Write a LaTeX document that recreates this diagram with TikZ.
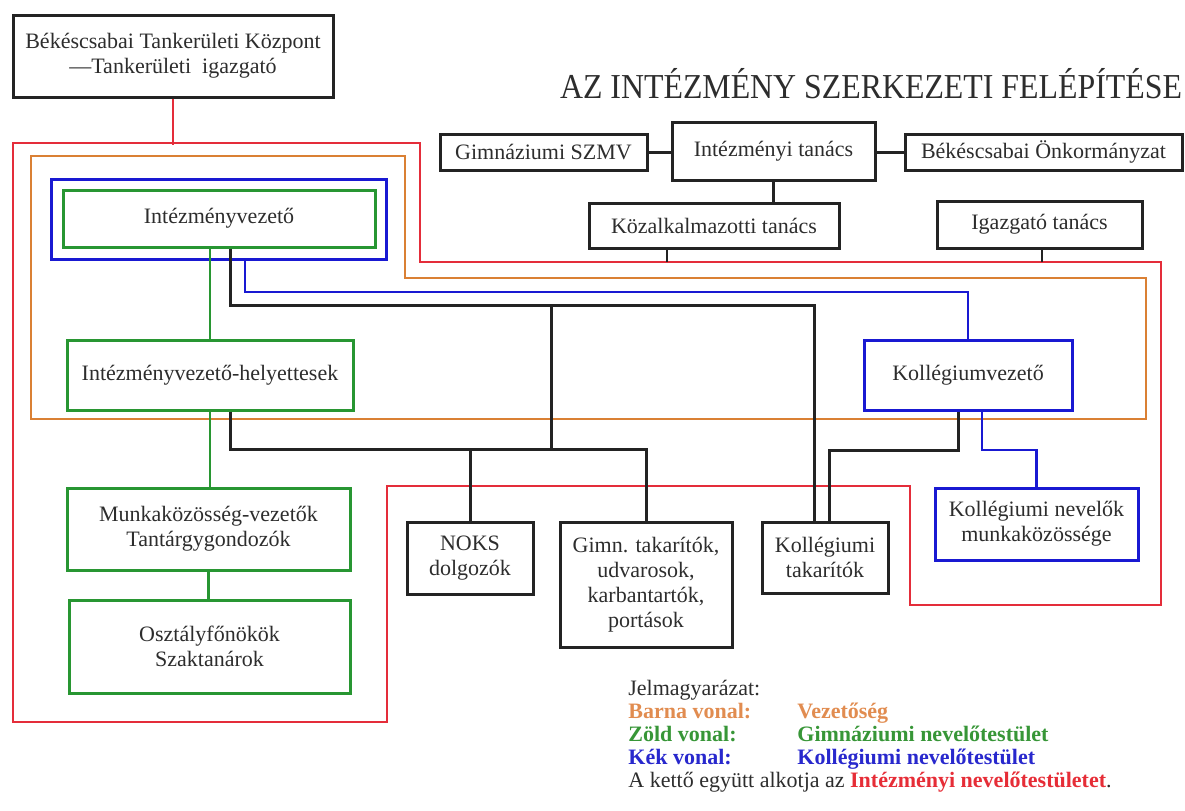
\documentclass[tikz,border=0pt]{standalone}
\usepackage{fontspec}
\setmainfont{Liberation Serif}
\usepackage{xcolor}
\usepackage{graphicx}
\usepackage{tikz}
\usetikzlibrary{positioning,calc}

\definecolor{vonalpiros}{RGB}{228,45,58}
\definecolor{vonalbarna}{RGB}{218,128,52}
\definecolor{vonalzold}{RGB}{40,150,50}
\definecolor{vonalkek}{RGB}{25,25,210}
\definecolor{vonalfekete}{RGB}{35,35,35}
\definecolor{szoveg}{RGB}{45,45,45}
\definecolor{jelbarna}{RGB}{225,140,80}
\definecolor{jelzold}{RGB}{55,150,55}
\definecolor{jelkek}{RGB}{40,40,205}
\definecolor{jelpiros}{RGB}{230,45,55}

\tikzset{
  doboz/.style={draw=vonalfekete, line width=1.5pt, align=center, inner sep=0pt,
    text=szoveg, font=\fontsize{11}{12.5}\selectfont},
  zdoboz/.style={doboz, draw=vonalzold},
  kdoboz/.style={doboz, draw=vonalkek},
  fekete/.style={draw=vonalfekete, line width=1.5pt},
  zold/.style={draw=vonalzold, line width=1.4pt},
  kek/.style={draw=vonalkek, line width=1.4pt},
  piros/.style={draw=vonalpiros, line width=1.3pt},
  barna/.style={draw=vonalbarna, line width=1.3pt},
  jel/.style={anchor=base west, inner sep=0pt, text=szoveg, font=\fontsize{11}{13}\selectfont},
}

\begin{document}
\begin{tikzpicture}[x=0.5pt, y=-0.5pt]
    \useasboundingbox (0,0) rectangle (1185,810);

    % fenntarto es tanacsok
    \node[doboz, minimum width=160pt, minimum height=41pt] (tk) at (173,56)
        {Békéscsabai Tankerületi Központ\\—Tankerületi\ \ igazgató};
    \node[text=szoveg, font=\fontsize{17.5}{20}\selectfont] (cim) at (871,84)
        {\scalebox{0.91}[1]{AZ INTÉZMÉNY SZERKEZETI FELÉPÍTÉSE}};
    \node[doboz, minimum width=103.5pt, minimum height=18pt] (szmv) at (543.5,152) {Gimnáziumi SZMV};
    \node[doboz, minimum width=101.5pt, minimum height=29pt] (itan) at (773.5,151) {Intézményi tanács};
    \node[doboz, minimum width=138.5pt, minimum height=18pt] (onk) at (1043.5,152) {Békéscsabai Önkormányzat};
    \node[doboz, minimum width=125pt, minimum height=22.5pt] (kozalk) at (714,225.5) {Közalkalmazotti tanács};
    \node[doboz, minimum width=102.5pt, minimum height=23.5pt] (igt) at (1039.5,224.5) {Igazgató tanács};

    % vezetoseg
    \node[zdoboz, minimum width=156pt, minimum height=28.5pt] (vez) at (219,218.5) {Intézményvezető};
    \node[zdoboz, minimum width=143pt, minimum height=35pt] (hely) at (210,375) {Intézményvezető-helyettesek};
    \node[kdoboz, minimum width=104pt, minimum height=35pt] (kvez) at (968,375) {Kollégiumvezető};

    % nevelok es dolgozok
    \node[zdoboz, minimum width=141.5pt, minimum height=41pt] (mkv) at (208.5,529)
        {Munkaközösség-vezetők\\Tantárgygondozók};
    \node[zdoboz, minimum width=140.5pt, minimum height=46.5pt] (osz) at (209.5,646.5)
        {Osztályfőnökök\\Szaktanárok};
    \node[doboz, minimum width=63pt, minimum height=36pt] (noks) at (470,558) {NOKS\\dolgozók};
    \node[doboz, minimum width=86pt, minimum height=62.5pt] (gimn) at (646,584.5)
        {Gimn. takarítók,\\udvarosok,\\karbantartók,\\portások};
    \node[doboz, minimum width=63pt, minimum height=35.5pt] (ktak) at (825,557.5) {Kollégiumi\\takarítók};
    \node[kdoboz, minimum width=101.5pt, minimum height=36pt] (knev) at (1036.5,524)
        {Kollégiumi nevelők\\munkaközössége};

    % keretek
    \draw[piros] (13,143) -- (420,143) -- (420,262) -- (1161,262) -- (1161,605) -- (910,605)
        -- (910,486) -- (387,486) -- (387,722) -- (13,722) -- cycle;
    \draw[barna] (31,156) -- (405,156) -- (405,278) -- (1146,278) -- (1146,419) -- (31,419) -- cycle;
    \coordinate (kk1) at ($(vez.north west)+(-10,-9)$);
    \coordinate (kk2) at ($(vez.south east)+(10,11)$);
    \draw[kek] (kk1) rectangle (kk2);

    % tanacsok vonalai
    \draw[piros] (tk.south) -- ++(0,46);
    \draw[fekete] (szmv.east) -- (szmv.east -| itan.west);
    \draw[fekete] (onk.west -| itan.east) -- (onk.west);
    \draw[fekete] (itan.south) -- (itan.south |- kozalk.north);
    \coordinate (kozlab) at (667,262);
    \coordinate (igazlab) at (1042,262);
    \draw[fekete, line width=1pt] (kozlab |- kozalk.south) -- (kozlab);
    \draw[fekete, line width=1pt] (igazlab |- igt.south) -- (igazlab);

    % zold vonal
    \draw[zold] (hely.north |- vez.south) -- (hely.north);
    \draw[zold] (hely.south) -- (hely.south |- mkv.north);
    \draw[zold] (mkv.south) -- (mkv.south |- osz.north);

    % fekete vonal
    \coordinate (f1) at (230,305);
    \coordinate (f2) at (551,305);
    \coordinate (f3) at (551,449);
    \coordinate (f4) at (230,449);
    \coordinate (ktakbal) at ([xshift=-5.5pt]ktak.north);
    \coordinate (ktakjobb) at ([xshift=2pt]ktak.north);
    \draw[fekete] (f1 |- vez.south) -- (f1) -- (f1 -| ktakbal) -- (ktakbal);
    \draw[fekete] (f2) -- (f3);
    \draw[fekete] (f4 |- hely.south) -- (f4) -- (f4 -| gimn.north) -- (gimn.north);
    \draw[fekete] (f4 -| noks.north) -- (noks.north);

    % kek vonal
    \coordinate (k1) at (245,292);
    \coordinate (k2) at (958,450);
    \coordinate (k3) at (982,450);
    \draw[kek] (k1 |- kk2) -- (k1) -- (k1 -| kvez.north) -- (kvez.north);
    \draw[fekete] (k2 |- kvez.south) -- (k2) -- (k2 -| ktakjobb) -- (ktakjobb);
    \draw[kek] (k3 |- kvez.south) -- (k3) -- (k3 -| knev.north) -- (knev.north);

    % jelmagyarazat
    \node[jel] (jel0) at (628,695) {Jelmagyarázat:};
    \node[jel, text=jelbarna] (jel1a) at (628,718) {\textbf{Barna vonal:}};
    \node[jel, text=jelbarna] (jel1b) at (797,718) {\textbf{Vezetőség}};
    \node[jel, text=jelzold] (jel2a) at (628,741) {\textbf{Zöld vonal:}};
    \node[jel, text=jelzold] (jel2b) at (797,741) {\textbf{Gimnáziumi nevelőtestület}};
    \node[jel, text=jelkek] (jel3a) at (628,764) {\textbf{Kék vonal:}};
    \node[jel, text=jelkek] (jel3b) at (797,764) {\textbf{Kollégiumi nevelőtestület}};
    \node[jel] (jel4) at (628,787)
        {A kettő együtt alkotja az \textcolor{jelpiros}{\textbf{Intézményi nevelőtestületet}}.};
\end{tikzpicture}
\end{document}
